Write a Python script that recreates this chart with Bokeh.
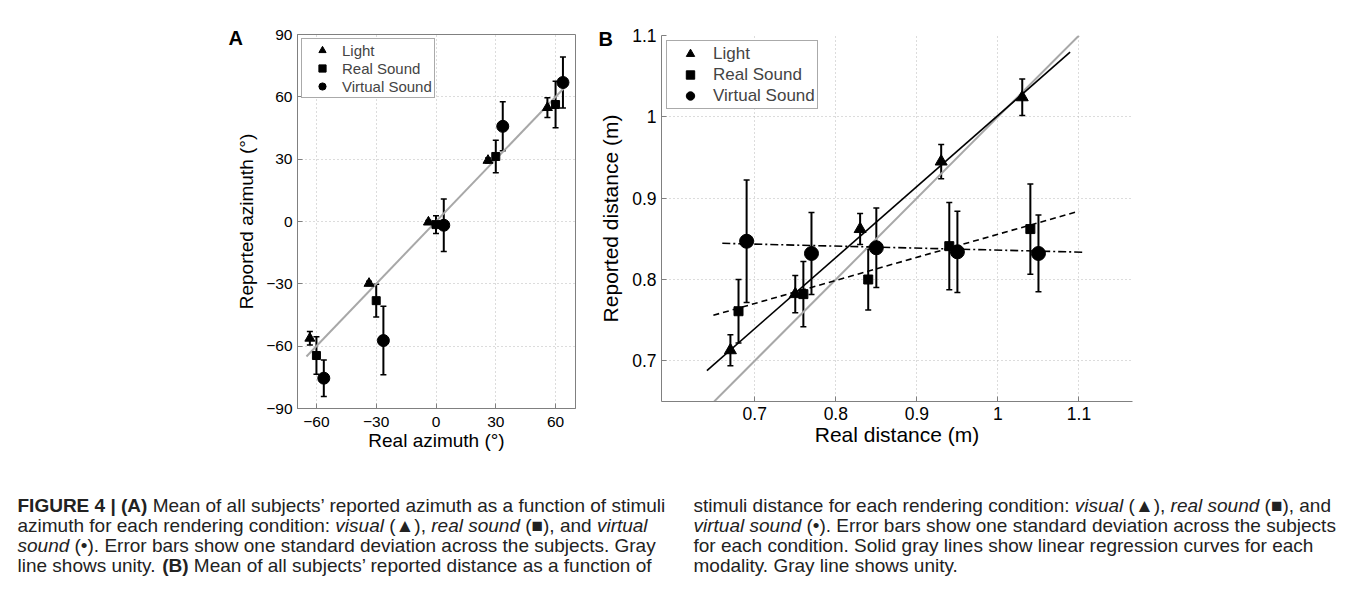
from bokeh.plotting import figure
from bokeh.models import (ColumnDataSource, Whisker, TeeHead, Range1d,
                          FixedTicker, CustomJSTickFormatter)
from bokeh.layouts import column, row
from bokeh.core.properties import value
from bokeh.embed import file_html
from bokeh.resources import INLINE

FONT = "Liberation Sans"

# ---------------- Panel A : azimuth ----------------
az_light_x = [-63.3, -33.6, -3.8, 26.1, 55.9]
az_light_y = [-56.2, -29.8, -0.3, 29.4, 54.8]
az_light_sd = [3.2, 1.0, 0.8, 1.2, 4.8]
az_real_x = [-60, -30, 0, 30, 60]
az_real_y = [-64.5, -38.1, -1.5, 31.3, 56.3]
az_real_sd = [9.0, 7.9, 4.3, 7.8, 11.2]
az_virt_x = [-56.3, -26.4, 3.9, 33.5, 63.7]
az_virt_y = [-75.4, -57.3, -1.8, 45.8, 66.9]
az_virt_sd = [8.8, 16.5, 12.6, 11.8, 12.3]
az_unity = [-65, 65]
az_ticks_x = [-60, -30, 0, 30, 60]
az_ticks_y = [-90, -60, -30, 0, 30, 60, 90]

# ---------------- Panel B : distance ----------------
dist_light_x = [0.67, 0.75, 0.83, 0.93, 1.03]
dist_light_y = [0.713, 0.782, 0.862, 0.945, 1.024]
dist_light_sd = [0.019, 0.023, 0.019, 0.021, 0.0225]
dist_real_x = [0.68, 0.76, 0.84, 0.94, 1.04]
dist_real_y = [0.761, 0.782, 0.800, 0.841, 0.862]
dist_real_sd = [0.039, 0.040, 0.0375, 0.0537, 0.0554]
dist_virt_x = [0.69, 0.77, 0.85, 0.95, 1.05]
dist_virt_y = [0.847, 0.832, 0.839, 0.834, 0.832]
dist_virt_sd = [0.0752, 0.0503, 0.0488, 0.0499, 0.0472]
fit_light_x = [0.641, 1.089]
fit_light_y = [0.688, 1.0795]
fit_real_x = [0.649, 1.100]
fit_real_y = [0.756, 0.884]
fit_virt_x = [0.660, 1.107]
fit_virt_y = [0.8445, 0.8335]
dist_unity = [0.65, 1.10]
dist_ticks = [0.7, 0.8, 0.9, 1.0, 1.1]

series_names = ["Light", "Real Sound", "Virtual Sound"]
markers = ["triangle", "square", "circle"]


def add_errorbars(p, xs, ys, sds, cap):
    src = ColumnDataSource(dict(x=xs,
                                lower=[y - s for y, s in zip(ys, sds)],
                                upper=[y + s for y, s in zip(ys, sds)]))
    w = Whisker(source=src, base="x", lower="lower", upper="upper",
                dimension="height", line_color="black", line_width=2,
                lower_head=TeeHead(size=cap, line_color="black", line_width=1.5),
                upper_head=TeeHead(size=cap, line_color="black", line_width=1.5))
    p.add_layout(w)


def style_axes(p, tick_size, label_size):
    for ax in p.axis:
        ax.axis_line_color = "#808080"
        ax.major_tick_line_color = "#808080"
        ax.major_tick_in = 5
        ax.major_tick_out = 0
        ax.minor_tick_line_color = None
        ax.major_label_text_font = FONT
        ax.major_label_text_font_size = tick_size
        ax.major_label_text_color = "black"
        ax.major_label_standoff = 5
        ax.axis_label_text_font = FONT
        ax.axis_label_text_font_size = label_size
        ax.axis_label_text_font_style = "normal"
        ax.axis_label_text_color = "black"
    for g in p.grid:
        g.grid_line_color = "#b8b8b8"
        g.grid_line_dash = "1 3"
        g.grid_line_width = 1


def style_legend(p, margin, glyph_w, glyph_h, font_size):
    lg = p.legend[0]
    lg.location = "top_left"
    lg.margin = margin
    lg.padding = 2
    lg.spacing = 0
    lg.glyph_width = glyph_w
    lg.glyph_height = glyph_h
    lg.label_height = glyph_h
    lg.label_standoff = 2
    lg.label_text_font = FONT
    lg.label_text_font_size = font_size
    lg.border_line_color = "#555555"
    lg.border_line_width = 1
    lg.background_fill_alpha = 1.0


def style_title(p, offset):
    p.title.align = "left"
    p.title.offset = offset
    p.title.standoff = -28
    p.title.text_font = FONT
    p.title.text_font_style = "bold"
    p.title.text_font_size = "20px"
    p.title.text_color = "black"


ROW_H = 470

# ---------- figure A ----------
pA = figure(width=577, height=ROW_H, x_range=Range1d(-69.5, 70), y_range=Range1d(-90, 90),
            output_backend="svg", toolbar_location=None, title="A",
            min_border_left=297, min_border_right=2, min_border_top=34,
            min_border_bottom=ROW_H - 34 - 374)
style_title(pA, -69)
pA.xaxis.ticker = FixedTicker(ticks=az_ticks_x)
pA.yaxis.ticker = FixedTicker(ticks=az_ticks_y)
minus_fmt = "return tick < 0 ? '\\u2212' + Math.abs(tick) : String(tick);"
pA.xaxis.formatter = CustomJSTickFormatter(code=minus_fmt)
pA.yaxis.formatter = CustomJSTickFormatter(code=minus_fmt)
pA.xaxis.axis_label = "Real azimuth (°)"
pA.yaxis.axis_label = "Reported azimuth (°)"
style_axes(pA, "15.5px", "19px")
pA.xaxis.major_label_standoff = 8
pA.xaxis.axis_label_standoff = 0
pA.yaxis.axis_label_standoff = 6
pA.outline_line_color = "#808080"
pA.outline_line_width = 1

pA.line(az_unity, az_unity, line_color="#a8a8a8", line_width=2)
for xs, ys, sds in [(az_light_x, az_light_y, az_light_sd),
                    (az_real_x, az_real_y, az_real_sd),
                    (az_virt_x, az_virt_y, az_virt_sd)]:
    add_errorbars(pA, xs, ys, sds, 6)
sizesA = [10, 8, 12]
for (xs, ys), name, mk, sz in zip([(az_light_x, az_light_y), (az_real_x, az_real_y),
                                   (az_virt_x, az_virt_y)], series_names, markers, sizesA):
    pA.scatter(xs, ys, marker=mk, size=sz, fill_color="black", line_color="black",
               legend_label=name)
style_legend(pA, 4, 36, 18, "15px")

# ---------- figure B ----------
pB = figure(width=761, height=ROW_H, x_range=Range1d(0.585, 1.166), y_range=Range1d(0.65, 1.1),
            output_backend="svg", toolbar_location=None, title="B",
            min_border_left=84, min_border_right=761 - 84 - 471, min_border_top=35,
            min_border_bottom=ROW_H - 35 - 366)
style_title(pB, -63)
pB.xaxis.ticker = FixedTicker(ticks=dist_ticks)
pB.yaxis.ticker = FixedTicker(ticks=dist_ticks)
one_fmt = "return Math.abs(tick - 1) < 1e-9 ? '1' : tick.toFixed(1);"
pB.xaxis.formatter = CustomJSTickFormatter(code=one_fmt)
pB.yaxis.formatter = CustomJSTickFormatter(code=one_fmt)
pB.xaxis.axis_label = "Real distance (m)"
pB.yaxis.axis_label = "Reported distance (m)"
style_axes(pB, "17.5px", "21px")
pB.xaxis.major_label_standoff = 5
pB.xaxis.axis_label_standoff = 0
pB.yaxis.axis_label_standoff = 7
pB.outline_line_color = None

pB.line(dist_unity, dist_unity, line_color="#a8a8a8", line_width=2)
pB.line(fit_light_x, fit_light_y, line_color="black", line_width=1.6)
pB.line(fit_real_x, fit_real_y, line_color="black", line_width=1.6, line_dash="6 4")
pB.line(fit_virt_x, fit_virt_y, line_color="black", line_width=1.6, line_dash="8 3 2 3")
for xs, ys, sds in [(dist_light_x, dist_light_y, dist_light_sd),
                    (dist_real_x, dist_real_y, dist_real_sd),
                    (dist_virt_x, dist_virt_y, dist_virt_sd)]:
    add_errorbars(pB, xs, ys, sds, 6)
sizesB = [12, 9, 14]
for (xs, ys), name, mk, sz in zip([(dist_light_x, dist_light_y), (dist_real_x, dist_real_y),
                                   (dist_virt_x, dist_virt_y)], series_names, markers, sizesB):
    pB.scatter(xs, ys, marker=mk, size=sz, fill_color="black", line_color="black",
               legend_label=name)
style_legend(pB, 5, 42, 21, "17px")

# ---------- caption ----------
W_REG = {" ": 278, ".": 278, ",": 278, ":": 278, ";": 278, "(": 333, ")": 333, "|": 260,
         "\u2019": 222, "'": 191, "-": 333, "\u2022": 350, "\u25b2": 990, "\u25a0": 604,
         "A": 667, "B": 667, "C": 722, "D": 722, "E": 667, "F": 611, "G": 778, "H": 722,
         "I": 278, "J": 500, "K": 667, "L": 556, "M": 833, "N": 722, "O": 778, "P": 667,
         "Q": 778, "R": 722, "S": 667, "T": 611, "U": 722, "V": 667, "W": 944, "X": 667,
         "Y": 667, "Z": 611,
         "a": 556, "b": 556, "c": 500, "d": 556, "e": 556, "f": 278, "g": 556, "h": 556,
         "i": 222, "j": 222, "k": 500, "l": 222, "m": 833, "n": 556, "o": 556, "p": 556,
         "q": 556, "r": 333, "s": 500, "t": 278, "u": 556, "v": 500, "w": 722, "x": 500,
         "y": 500, "z": 500}
W_BOLD = {" ": 278, "(": 333, ")": 333, "|": 280, "A": 722, "B": 722, "E": 667, "F": 611,
          "G": 778, "I": 278, "R": 722, "U": 722, "4": 556}

cap_left = [
    [("FIGURE 4 | (A)", "bold"), (" Mean of all subjects\u2019 reported azimuth as a function of stimuli", "normal")],
    [("azimuth for each rendering condition: ", "normal"), ("visual", "italic"), (" (\u25b2), ", "normal"),
     ("real sound", "italic"), (" (\u25a0), and ", "normal"), ("virtual", "italic")],
    [("sound", "italic"), (" (\u2022). Error bars show one standard deviation across the subjects. Gray", "normal")],
    [("line shows unity. ", "normal"), ("(B)", "bold"), (" Mean of all subjects\u2019 reported distance as a function of", "normal")],
]
cap_right = [
    [("stimuli distance for each rendering condition: ", "normal"), ("visual", "italic"), (" (\u25b2), ", "normal"),
     ("real sound", "italic"), (" (\u25a0), and", "normal")],
    [("virtual sound", "italic"), (" (\u2022). Error bars show one standard deviation across the subjects", "normal")],
    [("for each condition. Solid gray lines show linear regression curves for each", "normal")],
    [("modality. Gray line shows unity.", "normal")],
]

CAP_SIZE = 19.0
CAP_TOP = ROW_H
CAP_W, CAP_H = 1338, 576 - ROW_H
col_x = [17, 693]
line_mid = [505, 525, 545, 565]


def text_width(s, style):
    tab = W_BOLD if style == "bold" else W_REG
    return sum(tab.get(c, W_REG.get(c, 556)) for c in s) / 1000.0 * CAP_SIZE


pieces = {"normal": dict(x=[], y=[], t=[]), "bold": dict(x=[], y=[], t=[]),
          "italic": dict(x=[], y=[], t=[])}
for cx, lines in zip(col_x, [cap_left, cap_right]):
    for ly, segs in zip(line_mid, lines):
        x = cx
        for txt, st in segs:
            lead = len(txt) - len(txt.lstrip(" "))
            pieces[st]["x"].append(x + text_width(" " * lead, st))
            pieces[st]["y"].append(ly - CAP_TOP)
            pieces[st]["t"].append(txt.strip(" "))
            x += text_width(txt, st)

pC = figure(width=CAP_W, height=CAP_H, x_range=Range1d(0, CAP_W), y_range=Range1d(CAP_H, 0),
            output_backend="svg", toolbar_location=None, title=None,
            x_axis_location=None, y_axis_location=None, min_border=0)
pC.outline_line_color = None
pC.grid.visible = False
for st, d in pieces.items():
    pC.text(x=d["x"], y=d["y"], text=d["t"], text_font=value(FONT), text_font_style=st,
            text_font_size=value(f"{CAP_SIZE}px"), text_align="left",
            text_baseline="middle", text_color="#222222")

# each panel in its own column so that Bokeh does not align their frames
layout = column(row(column(pA), column(pB)), pC)
open("out.html", "w").write(file_html(layout, INLINE))
